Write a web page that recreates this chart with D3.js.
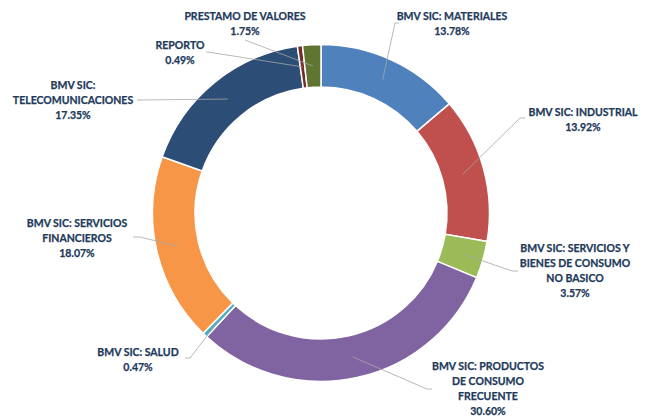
<!DOCTYPE html>
<html><head><meta charset="utf-8">
<script src="https://cdn.jsdelivr.net/npm/d3@7"></script>
<style>
html,body{margin:0;padding:0;background:#fff;}
svg{display:block;}
text{font-family:Lato,"Open Sans",sans-serif;font-weight:700;fill:#21395A;stroke:#21395A;stroke-width:0.25px;}
</style></head>
<body>
<svg id="chart" width="649" height="418"></svg>
<script>
const categories = ["BMV SIC: MATERIALES","BMV SIC: INDUSTRIAL","BMV SIC: SERVICIOS Y BIENES DE CONSUMO NO BASICO","BMV SIC: PRODUCTOS DE CONSUMO FRECUENTE","BMV SIC: SALUD","BMV SIC: SERVICIOS FINANCIEROS","BMV SIC: TELECOMUNICACIONES","REPORTO","PRESTAMO DE VALORES"];
const values = [13.78, 13.92, 3.57, 30.60, 0.47, 18.07, 17.35, 0.49, 1.75];
const labelLines = [
  ["BMV SIC: MATERIALES"],
  ["BMV SIC: INDUSTRIAL"],
  ["BMV SIC: SERVICIOS Y","BIENES DE CONSUMO","NO BASICO"],
  ["BMV SIC: PRODUCTOS","DE CONSUMO","FRECUENTE"],
  ["BMV SIC: SALUD"],
  ["BMV SIC: SERVICIOS","FINANCIEROS"],
  ["BMV SIC:","TELECOMUNICACIONES"],
  ["REPORTO"],
  ["PRESTAMO DE VALORES"]
];
const colors = ["#4F81BD","#C0504D","#9BBB59","#8064A2","#4BACC6","#F79646","#2C4D75","#772C2A","#5F7530"];

// layout: label center x, first line y, leader elbow point, leader end
const labelLayout = [
  {x:452, y:16, elbow:[395,23], end:[399,23]},
  {x:583, y:112, elbow:[520,118], end:[525,118]},
  {x:575, y:248, elbow:[512,271], end:[518,271]},
  {x:488, y:366, elbow:[427,389], end:[432,389]},
  {x:138, y:352, elbow:[190,358], end:[185,358]},
  {x:77, y:223, elbow:[140,237], end:[133,237]},
  {x:73, y:85, elbow:[140,100], end:[137,100]},
  {x:180, y:45, elbow:[208,52], end:[206,52]},
  {x:245, y:16, elbow:[245,40], end:[245,40]}
];
const lineH = 15;

const svg = d3.select("#chart");
const cx = 321, cy = 213, R = 168.5, r = 126;
const g = svg.append("g").attr("transform", `translate(${cx},${cy})`);

const pie = d3.pie().sort(null).value(d => d).startAngle(0).endAngle(2*Math.PI);
const arcs = pie(values);
const arc = d3.arc().innerRadius(r).outerRadius(R);
const midArc = d3.arc().innerRadius((r+R)/2).outerRadius((r+R)/2);

g.selectAll("path.slice").data(arcs).enter().append("path")
  .attr("class","slice")
  .attr("d", arc)
  .attr("fill", (d,i) => colors[i])
  .attr("stroke", "#fff")
  .attr("stroke-width", 1.5);

const fmt = v => v.toFixed(2) + "%";

arcs.forEach((d,i) => {
  const c = midArc.centroid(d);
  const L = labelLayout[i];
  const pts = [[c[0]+cx, c[1]+cy], L.elbow, L.end];
  svg.append("path")
    .attr("d", d3.line()(pts))
    .attr("fill","none")
    .attr("stroke","#A6A6A6")
    .attr("stroke-width",0.8);
  const lines = labelLines[i].concat([fmt(values[i])]);
  const t = svg.append("text")
    .attr("text-anchor","middle")
    .attr("font-size","10.5px");
  lines.forEach((s,k) => {
    t.append("tspan").attr("x", L.x).attr("y", L.y + k*lineH).attr("dy","0.35em").text(s);
  });
});
</script>
</body></html>
